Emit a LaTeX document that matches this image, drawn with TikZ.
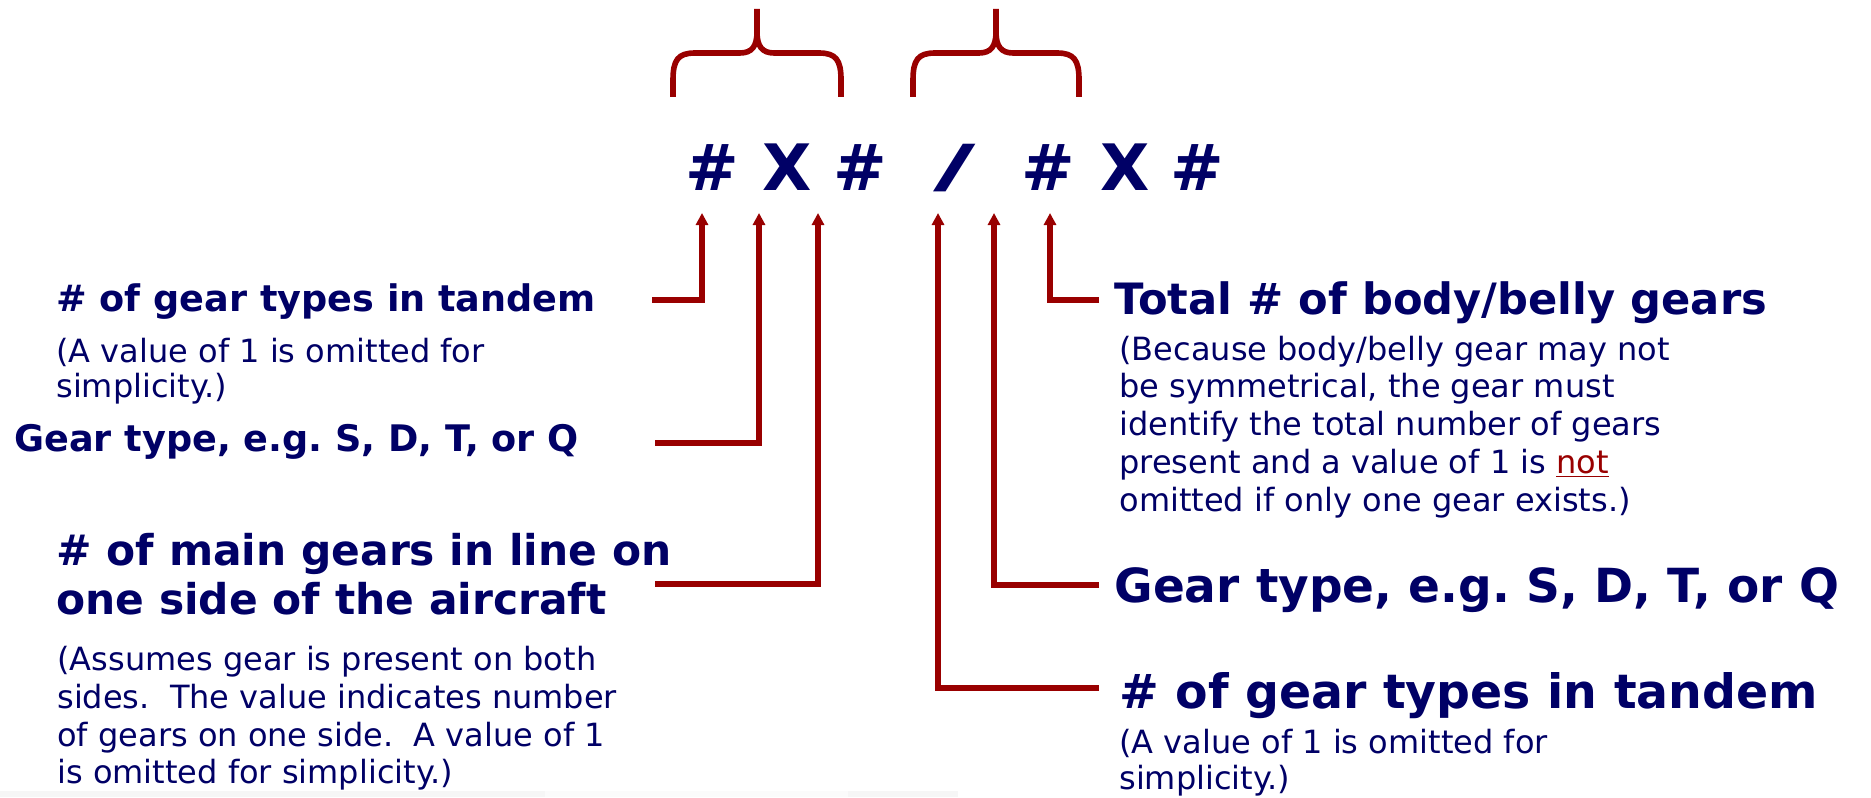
\documentclass[tikz,border=0pt]{standalone}
\usepackage{fontspec}
\usepackage{graphicx}
\setmainfont{DejaVu Sans}
\usetikzlibrary{arrows.meta}
\definecolor{navy}{HTML}{000066}
\definecolor{gearred}{HTML}{990000}

\tikzset{
  sym/.style={text=navy, inner sep=0pt, anchor=base,
    font=\bfseries\fontsize{32}{36}\selectfont},
  head/.style={text=navy, inner sep=0pt, anchor=base west,
    font=\bfseries\fontsize{#1}{#1}\selectfont},
  note/.style={text=navy, inner sep=0pt, anchor=base west,
    font=\fontsize{16}{18}\selectfont},
  conn/.style={draw=gearred, line width=3.2pt, line join=miter,
    -{Triangle[width=6pt,length=6pt]}},
  brace/.style={draw=gearred, line width=2.8pt, line join=round}
}

\begin{document}
\begin{tikzpicture}[x=0.5pt, y=-0.5pt]
\useasboundingbox (0,0) rectangle (1871,797);

% faint strip along the lower edge
\fill[gray!7] (0,791) rectangle (545,797);
\fill[gray!3] (545,791) rectangle (848,797);
\fill[gray!7] (848,791) rectangle (958,797);

% designation symbols
\node[sym] (s1) at (712,190) {\#};
\node[sym] (s2) at (787,190) {X};
\node[sym] (s3) at (860,190) {\#};
\node[sym, font=\bfseries\fontsize{29}{32}\selectfont] (s4) at (955,186) {\scalebox{2}[1]{/}};
\node[sym] (s5) at (1048,190) {\#};
\node[sym] (s6) at (1125,190) {X};
\node[sym] (s7) at (1197,190) {\#};

% braces over the two groups
\draw[brace] (673,97) -- (673,80) .. controls (673,60) and (678,53) .. (695,53)
  -- (740,53) .. controls (752,53) and (757,46) .. (757,32) -- (757,9);
\draw[brace] (757,32) .. controls (757,46) and (762,53) .. (774,53)
  -- (819,53) .. controls (836,53) and (841,60) .. (841,80) -- (841,97);
\draw[brace] (913,97) -- (913,80) .. controls (913,60) and (918,53) .. (935,53)
  -- (979,53) .. controls (991,53) and (996,46) .. (996,32) -- (996,9);
\draw[brace] (996,32) .. controls (996,46) and (1001,53) .. (1013,53)
  -- (1057,53) .. controls (1074,53) and (1079,60) .. (1079,80) -- (1079,97);

% arrow tips under the symbols
\coordinate (t1) at (702,213);
\coordinate (t2) at (759,213);
\coordinate (t3) at (818,213);
\coordinate (t4) at (938,213);
\coordinate (t5) at (994,213);
\coordinate (t6) at (1050,213);

% connector starts beside the labels
\coordinate (a1) at (652,300);
\coordinate (a2) at (655,443);
\coordinate (a3) at (655,584);
\coordinate (a4) at (1099,688);
\coordinate (a5) at (1099,585);
\coordinate (a6) at (1099,300);

\draw[conn] (a1) -| (t1);
\draw[conn] (a2) -| (t2);
\draw[conn] (a3) -| (t3);
\draw[conn] (a4) -| (t4);
\draw[conn] (a5) -| (t5);
\draw[conn] (a6) -| (t6);

% left labels
\node[head=18.3] (lt1) at (56,311) {\# of gear types in tandem};
\node[note] (ln1a) at (56,362) {(A value of 1 is omitted for};
\node[note] (ln1b) at (56,397) {simplicity.)};
\node[head=18.3] (lt2) at (14,451) {Gear type, e.g.\ S, D, T, or Q};
\node[head=21.2] (lt3a) at (56,565) {\# of main gears in line on};
\node[head=21.2] (lt3b) at (56,614) {one side of the aircraft};
\node[note] (ln3a) at (57,670) {(Assumes gear is present on both};
\node[note] (ln3b) at (57,708) {sides.~~The value indicates number};
\node[note] (ln3c) at (57,746) {of gears on one side.~~A value of 1};
\node[note] (ln3d) at (57,783) {is omitted for simplicity.)};

% right labels
\node[head=21.6] (rt1) at (1114,314) {Total \# of body/belly gears};
\node[note] (rn1a) at (1119,360) {(Because body/belly gear may not};
\node[note] (rn1b) at (1119,397) {be symmetrical, the gear must};
\node[note] (rn1c) at (1119,435) {identify the total number of gears};
\node[note] (rn1d) at (1119,473) {present and a value of 1 is \textcolor{gearred}{\underline{not}}};
\node[note] (rn1e) at (1119,511) {omitted if only one gear exists.)};
\node[head=23.5] (rt2) at (1114,602) {Gear type, e.g.\ S, D, T, or Q};
\node[head=23.7] (rt3) at (1119,708) {\# of gear types in tandem};
\node[note] (rn3a) at (1119,753) {(A value of 1 is omitted for};
\node[note] (rn3b) at (1119,789) {simplicity.)};
\end{tikzpicture}
\end{document}
